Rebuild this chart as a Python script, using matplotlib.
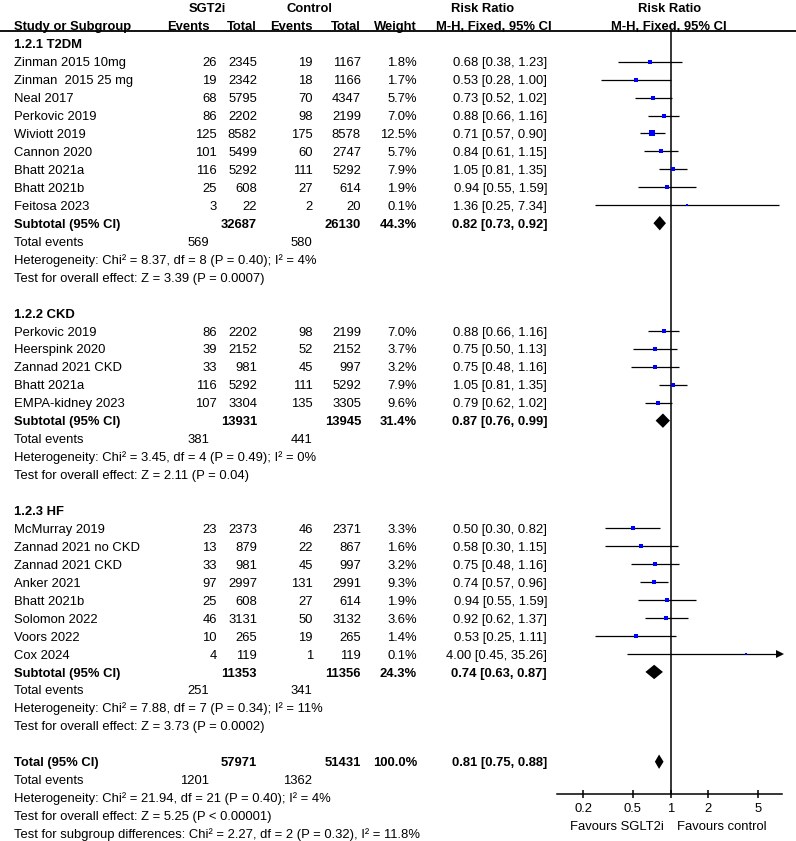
import numpy as np
import matplotlib.pyplot as plt

plt.rcParams['font.family'] = ['Liberation Sans', 'DejaVu Sans']

# 1.2.1 T2DM
t2dm_names = ['Zinman 2015 10mg', 'Zinman  2015 25 mg', 'Neal 2017', 'Perkovic 2019', 'Wiviott 2019',
              'Cannon 2020', 'Bhatt 2021a', 'Bhatt 2021b', 'Feitosa 2023']
t2dm_ev1 = [26, 19, 68, 86, 125, 101, 116, 25, 3]
t2dm_n1 = [2345, 2342, 5795, 2202, 8582, 5499, 5292, 608, 22]
t2dm_ev2 = [19, 18, 70, 98, 175, 60, 111, 27, 2]
t2dm_n2 = [1167, 1166, 4347, 2199, 8578, 2747, 5292, 614, 20]
t2dm_w = [1.8, 1.7, 5.7, 7.0, 12.5, 5.7, 7.9, 1.9, 0.1]
t2dm_rr = [0.68, 0.53, 0.73, 0.88, 0.71, 0.84, 1.05, 0.94, 1.36]
t2dm_lo = [0.38, 0.28, 0.52, 0.66, 0.57, 0.61, 0.81, 0.55, 0.25]
t2dm_hi = [1.23, 1.00, 1.02, 1.16, 0.90, 1.15, 1.35, 1.59, 7.34]

# 1.2.2 CKD
ckd_names = ['Perkovic 2019', 'Heerspink 2020', 'Zannad 2021 CKD', 'Bhatt 2021a', 'EMPA-kidney 2023']
ckd_ev1 = [86, 39, 33, 116, 107]
ckd_n1 = [2202, 2152, 981, 5292, 3304]
ckd_ev2 = [98, 52, 45, 111, 135]
ckd_n2 = [2199, 2152, 997, 5292, 3305]
ckd_w = [7.0, 3.7, 3.2, 7.9, 9.6]
ckd_rr = [0.88, 0.75, 0.75, 1.05, 0.79]
ckd_lo = [0.66, 0.50, 0.48, 0.81, 0.62]
ckd_hi = [1.16, 1.13, 1.16, 1.35, 1.02]

# 1.2.3 HF
hf_names = ['McMurray 2019', 'Zannad 2021 no CKD', 'Zannad 2021 CKD', 'Anker 2021', 'Bhatt 2021b',
            'Solomon 2022', 'Voors 2022', 'Cox 2024']
hf_ev1 = [23, 13, 33, 97, 25, 46, 10, 4]
hf_n1 = [2373, 879, 981, 2997, 608, 3131, 265, 119]
hf_ev2 = [46, 22, 45, 131, 27, 50, 19, 1]
hf_n2 = [2371, 867, 997, 2991, 614, 3132, 265, 119]
hf_w = [3.3, 1.6, 3.2, 9.3, 1.9, 3.6, 1.4, 0.1]
hf_rr = [0.50, 0.58, 0.75, 0.74, 0.94, 0.92, 0.53, 4.00]
hf_lo = [0.30, 0.30, 0.48, 0.57, 0.55, 0.62, 0.25, 0.45]
hf_hi = [0.82, 1.15, 1.16, 0.96, 1.59, 1.37, 1.11, 35.26]

# subtotals (T2DM, CKD, HF) and overall total
group_titles = ['1.2.1 T2DM', '1.2.2 CKD', '1.2.3 HF']
sub_n1 = [32687, 13931, 11353]
sub_n2 = [26130, 13945, 11356]
sub_w = [44.3, 31.4, 24.3]
sub_rr = [0.82, 0.87, 0.74]
sub_lo = [0.73, 0.76, 0.63]
sub_hi = [0.92, 0.99, 0.87]
sub_ev1 = [569, 381, 251]
sub_ev2 = [580, 441, 341]
sub_het = ['Heterogeneity: Chi\u00b2 = 8.37, df = 8 (P = 0.40); I\u00b2 = 4%',
           'Heterogeneity: Chi\u00b2 = 3.45, df = 4 (P = 0.49); I\u00b2 = 0%',
           'Heterogeneity: Chi\u00b2 = 7.88, df = 7 (P = 0.34); I\u00b2 = 11%']
sub_test = ['Test for overall effect: Z = 3.39 (P = 0.0007)',
            'Test for overall effect: Z = 2.11 (P = 0.04)',
            'Test for overall effect: Z = 3.73 (P = 0.0002)']

tot_n1, tot_n2, tot_w = 57971, 51431, 100.0
tot_rr, tot_lo, tot_hi = 0.81, 0.75, 0.88
tot_ev1, tot_ev2 = 1201, 1362
tot_het = 'Heterogeneity: Chi\u00b2 = 21.94, df = 21 (P = 0.40); I\u00b2 = 4%'
tot_test = 'Test for overall effect: Z = 5.25 (P < 0.00001)'
sub_diff = 'Test for subgroup differences: Chi\u00b2 = 2.27, df = 2 (P = 0.32), I\u00b2 = 11.8%'

xticks = [0.2, 0.5, 1, 2, 5]
xtick_labels = ['0.2', '0.5', '1', '2', '5']

groups = [
    (t2dm_names, t2dm_ev1, t2dm_n1, t2dm_ev2, t2dm_n2, t2dm_w, t2dm_rr, t2dm_lo, t2dm_hi),
    (ckd_names, ckd_ev1, ckd_n1, ckd_ev2, ckd_n2, ckd_w, ckd_rr, ckd_lo, ckd_hi),
    (hf_names, hf_ev1, hf_n1, hf_ev2, hf_n2, hf_w, hf_rr, hf_lo, hf_hi),
]

W, H = 796, 841
FS = 9.4
ROW0, STEP = 43.7, 17.95   # text centre of row 0 and row pitch (px)
X_ONE, DEC = 670.5, 125.0  # pixel of RR=1, px per decade
AX_L, AX_R, AX_T, AX_B = 557, 782, 30.7, 793.8

fig = plt.figure(figsize=(W / 100, H / 100), dpi=100)
tx = fig.add_axes([0, 0, 1, 1])
tx.set_xlim(0, W)
tx.set_ylim(H, 0)
tx.axis('off')

fx = fig.add_axes([AX_L / W, 1 - AX_B / H, (AX_R - AX_L) / W, (AX_B - AX_T) / H])
fx.patch.set_visible(False)
fx.set_xscale('log')
fx.set_xlim(10 ** ((AX_L - X_ONE) / DEC), 10 ** ((AX_R - X_ONE) / DEC))
off = 4.2 / STEP  # graphics sit a bit above the text centre
fx.set_ylim((AX_B - ROW0) / STEP - off, (AX_T - ROW0) / STEP - off)
for s in ['top', 'left', 'right']:
    fx.spines[s].set_visible(False)
fx.spines['bottom'].set_linewidth(1.1)
fx.set_yticks([])
fx.set_xticks(xticks)
fx.set_xticklabels(xtick_labels, fontsize=FS)
fx.minorticks_off()
fx.tick_params(axis='x', direction='inout', length=5.5, width=1.1, pad=4.2)
fx.axvline(1, color='black', lw=1.1)


def put(x, row, s, ha='left', bold=False, y=None):
    yy = ROW0 + STEP * row if y is None else y
    tx.text(x, yy + 4.6, s, ha=ha, va='baseline', fontsize=FS,
            fontweight='bold' if bold else 'normal')


def rr_txt(r, l, h):
    return f'{r:.2f} [{l:.2f}, {h:.2f}]'


def diamond(row, r, l, h):
    y = row - off
    hh = 7.2 / STEP
    fx.fill([l, r, h, r], [y, y - hh, y, y + hh], color='black', lw=0)


C_EV1, C_N1, C_EV2, C_N2, C_W, C_RR = 217, 257, 313, 361, 417, 547

# header
put(207, 0, 'SGT2i', ha='center', bold=True, y=7.3)
put(309, 0, 'Control', ha='center', bold=True, y=7.3)
put(483, 0, 'Risk Ratio', ha='center', bold=True, y=7.3)
put(670, 0, 'Risk Ratio', ha='center', bold=True, y=7.3)
hy = 25.0
put(14, 0, 'Study or Subgroup', bold=True, y=hy)
put(210, 0, 'Events', ha='right', bold=True, y=hy)
put(C_N1, 0, 'Total', ha='right', bold=True, y=hy)
put(C_EV2, 0, 'Events', ha='right', bold=True, y=hy)
put(C_N2, 0, 'Total', ha='right', bold=True, y=hy)
put(C_W, 0, 'Weight', ha='right', bold=True, y=hy)
put(494, 0, 'M-H, Fixed, 95% CI', ha='center', bold=True, y=hy)
put(669, 0, 'M-H, Fixed, 95% CI', ha='center', bold=True, y=hy)
tx.plot([0, W], [AX_T, AX_T], color='black', lw=1.3)

row = 0
xmax = fx.get_xlim()[1]
for g, (names, ev1, n1, ev2, n2, w, rr, lo, hi) in enumerate(groups):
    put(14, row, group_titles[g], bold=True)
    row += 1
    for k in range(len(names)):
        put(14, row, names[k])
        put(C_EV1, row, str(ev1[k]), ha='right')
        put(C_N1, row, str(n1[k]), ha='right')
        put(C_EV2, row, str(ev2[k]), ha='right')
        put(C_N2, row, str(n2[k]), ha='right')
        put(C_W, row, f'{w[k]:.1f}%', ha='right')
        put(C_RR, row, rr_txt(rr[k], lo[k], hi[k]), ha='right')
        y = row - off
        top = min(hi[k], xmax)
        fx.plot([lo[k], top], [y, y], color='black', lw=0.9, solid_capstyle='butt')
        if hi[k] > xmax:
            fx.plot([xmax / 10 ** (2.5 / DEC)], [y], marker='>', ms=6, color='black',
                    mew=0, clip_on=False)
        ms = (2.2 + 0.9 * np.sqrt(w[k])) * 0.72
        fx.plot([rr[k]], [y], marker='s', ms=ms, color='#0000ff', mew=0)
        row += 1
    put(14, row, 'Subtotal (95% CI)', bold=True)
    put(C_N1, row, str(sub_n1[g]), ha='right', bold=True)
    put(C_N2, row, str(sub_n2[g]), ha='right', bold=True)
    put(C_W, row, f'{sub_w[g]:.1f}%', ha='right', bold=True)
    put(C_RR, row, rr_txt(sub_rr[g], sub_lo[g], sub_hi[g]), ha='right', bold=True)
    diamond(row, sub_rr[g], sub_lo[g], sub_hi[g])
    row += 1
    put(14, row, 'Total events')
    put(209, row, str(sub_ev1[g]), ha='right')
    put(312, row, str(sub_ev2[g]), ha='right')
    row += 1
    put(14, row, sub_het[g])
    row += 1
    put(14, row, sub_test[g])
    row += 2

put(14, row, 'Total (95% CI)', bold=True)
put(C_N1, row, str(tot_n1), ha='right', bold=True)
put(C_N2, row, str(tot_n2), ha='right', bold=True)
put(C_W, row, f'{tot_w:.1f}%', ha='right', bold=True)
put(C_RR, row, rr_txt(tot_rr, tot_lo, tot_hi), ha='right', bold=True)
diamond(row, tot_rr, tot_lo, tot_hi)
row += 1
put(14, row, 'Total events')
put(209, row, str(tot_ev1), ha='right')
put(312, row, str(tot_ev2), ha='right')
row += 1
put(14, row, tot_het)
row += 1
put(14, row, tot_test)
row += 1
put(14, row, sub_diff)

put(664, 0, 'Favours SGLT2i', ha='right', y=825)
put(677, 0, 'Favours control', y=825)

fig.savefig('out.png', dpi=100)
